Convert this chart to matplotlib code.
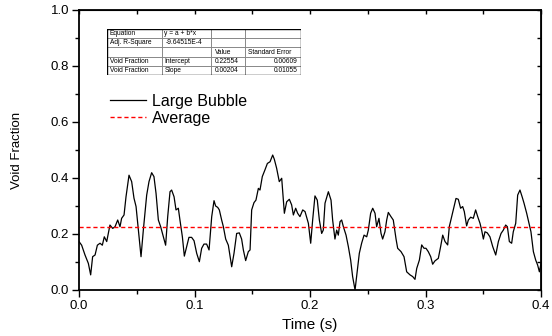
import matplotlib
matplotlib.use("Agg")
import matplotlib.pyplot as plt
from matplotlib.ticker import MultipleLocator

plt.rcParams['font.family'] = ['Liberation Sans', 'DejaVu Sans']

# time (s) and void fraction
time_s = [
    0.0000, 0.0023, 0.0052, 0.0081, 0.0101, 0.0118, 0.0139, 0.0159, 0.0182, 0.0202,
    0.0219, 0.0240, 0.0268, 0.0292, 0.0312, 0.0335, 0.0355, 0.0369, 0.0390, 0.0407,
    0.0433, 0.0456, 0.0476, 0.0494, 0.0514, 0.0537, 0.0557, 0.0586, 0.0606, 0.0629,
    0.0649, 0.0667, 0.0687, 0.0707, 0.0730, 0.0750, 0.0768, 0.0788, 0.0802, 0.0823,
    0.0840, 0.0860, 0.0874, 0.0895, 0.0912, 0.0932, 0.0952, 0.0975, 0.0996, 0.1019,
    0.1042, 0.1062, 0.1082, 0.1105, 0.1126, 0.1149, 0.1169, 0.1183, 0.1201, 0.1215,
    0.1235, 0.1250, 0.1270, 0.1293, 0.1322, 0.1342, 0.1365, 0.1388, 0.1408, 0.1423,
    0.1443, 0.1466, 0.1481, 0.1495, 0.1515, 0.1532, 0.1553, 0.1567, 0.1587, 0.1610,
    0.1631, 0.1654, 0.1677, 0.1691, 0.1711, 0.1734, 0.1755, 0.1778, 0.1798, 0.1821,
    0.1841, 0.1856, 0.1876, 0.1893,
    0.1913, 0.1937, 0.1957, 0.1986, 0.2006, 0.2023, 0.2043, 0.2063, 0.2081, 0.2101,
    0.2115, 0.2130, 0.2159, 0.2182, 0.2196, 0.2216, 0.2231, 0.2245, 0.2260, 0.2274,
    0.2289, 0.2312, 0.2332, 0.2352, 0.2369, 0.2390, 0.2410, 0.2427, 0.2447, 0.2468,
    0.2491, 0.2505, 0.2525, 0.2543, 0.2563, 0.2577, 0.2597, 0.2615, 0.2629, 0.2649,
    0.2664, 0.2678, 0.2701, 0.2721, 0.2745, 0.2759, 0.2788, 0.2814, 0.2837, 0.2866,
    0.2889, 0.2909, 0.2924, 0.2947, 0.2967, 0.2987, 0.3004, 0.3024, 0.3045, 0.3062,
    0.3082, 0.3111, 0.3131, 0.3149, 0.3169, 0.3192, 0.3206, 0.3227, 0.3241, 0.3264,
    0.3284, 0.3304, 0.3322, 0.3336, 0.3356, 0.3371, 0.3391, 0.3414, 0.3434, 0.3452,
    0.3472, 0.3486, 0.3501, 0.3515, 0.3535, 0.3558, 0.3582, 0.3608, 0.3631, 0.3654,
    0.3674, 0.3694, 0.3709, 0.3726, 0.3746, 0.3760, 0.3781, 0.3798, 0.3818, 0.3838,
    0.3853, 0.3876, 0.3896, 0.3913, 0.3934, 0.3954, 0.3971, 0.3986, 0.4000,
]
void_frac = [
    0.173, 0.160, 0.125, 0.095, 0.054, 0.119, 0.125, 0.160, 0.167, 0.160,
    0.190, 0.173, 0.232, 0.220, 0.226, 0.250, 0.226, 0.256, 0.268, 0.333,
    0.410, 0.387, 0.328, 0.298, 0.214, 0.119, 0.214, 0.339, 0.387, 0.419,
    0.405, 0.345, 0.250, 0.226, 0.190, 0.160, 0.262, 0.351, 0.357, 0.333,
    0.286, 0.292, 0.250, 0.190, 0.121, 0.155, 0.188, 0.188, 0.176, 0.131,
    0.101, 0.149, 0.164, 0.164, 0.143, 0.262, 0.319, 0.300, 0.295, 0.286,
    0.250, 0.226, 0.182, 0.160, 0.083, 0.131, 0.202, 0.204, 0.182, 0.143,
    0.105, 0.137, 0.143, 0.286, 0.312, 0.321, 0.363, 0.357, 0.405, 0.429,
    0.452, 0.458, 0.482, 0.467, 0.435, 0.387, 0.399, 0.274, 0.315, 0.324,
    0.304, 0.268, 0.292, 0.274,
    0.262, 0.286, 0.280, 0.238, 0.167, 0.250, 0.336, 0.321, 0.250, 0.202,
    0.214, 0.310, 0.351, 0.321, 0.250, 0.182, 0.214, 0.196, 0.244, 0.250,
    0.226, 0.196, 0.155, 0.107, 0.048, 0.000, 0.071, 0.131, 0.167, 0.196,
    0.190, 0.214, 0.274, 0.292, 0.274, 0.226, 0.256, 0.202, 0.182, 0.208,
    0.250, 0.277, 0.262, 0.250, 0.182, 0.149, 0.137, 0.119, 0.065, 0.054,
    0.048, 0.038, 0.077, 0.107, 0.161, 0.149, 0.149, 0.137, 0.119, 0.092,
    0.104, 0.113, 0.155, 0.196, 0.173, 0.161, 0.226, 0.262, 0.286, 0.327,
    0.324, 0.292, 0.298, 0.280, 0.229, 0.250, 0.260, 0.256, 0.286, 0.262,
    0.238, 0.214, 0.182, 0.208, 0.204, 0.190, 0.155, 0.125, 0.173, 0.202,
    0.214, 0.232, 0.226, 0.173, 0.167, 0.208, 0.238, 0.339, 0.357, 0.331,
    0.310, 0.274, 0.238, 0.208, 0.137, 0.107, 0.089, 0.065, 0.095,
]

average = 0.22554

# linear fit table (Origin style)
table_rows = [
    ["Equation", "y = a + b*x", "", ""],
    ["Adj. R-Square", "-9.64515E-4", "", ""],
    ["", "", "Value", "Standard Error"],
    ["Void Fraction", "Intercept", "0.22554", "0.00609"],
    ["Void Fraction", "Slope", "0.00204", "0.01055"],
]

W, H = 552, 336
fig = plt.figure(figsize=(W / 100, H / 100), dpi=100)
ax = fig.add_axes([79 / W, 1 - 290 / H, 462 / W, 280 / H])

ax.plot(time_s, void_frac, color='black', lw=0.9, label='Large Bubble')
ax.axhline(average, color='red', lw=1.0, dashes=(3, 2), label='Average')

ax.set_xlim(0, 0.4)
ax.set_ylim(0, 1.0)
ax.xaxis.set_major_locator(MultipleLocator(0.1))
ax.xaxis.set_minor_locator(MultipleLocator(0.05))
ax.yaxis.set_major_locator(MultipleLocator(0.2))
ax.yaxis.set_minor_locator(MultipleLocator(0.1))
ax.xaxis.set_major_formatter(lambda v, p: "%.1f" % v)
ax.yaxis.set_major_formatter(lambda v, p: "%.1f" % v)
ax.tick_params(which='major', direction='out', length=5, width=1.0, labelsize=9.5, pad=2)
ax.tick_params(which='minor', direction='out', length=3, width=1.0)
for s in ax.spines.values():
    s.set_linewidth(1.3)

top = ax.secondary_xaxis('top')
top.xaxis.set_major_locator(MultipleLocator(0.1))
top.xaxis.set_minor_locator(MultipleLocator(0.05))
top.tick_params(which='both', direction='in', length=3, width=1.0, labeltop=False)
right = ax.secondary_yaxis('right')
right.yaxis.set_major_locator(MultipleLocator(0.2))
right.yaxis.set_minor_locator(MultipleLocator(0.1))
right.tick_params(which='both', direction='in', length=3, width=1.0, labelright=False)

ax.set_xlabel("Time (s)", fontsize=11)
ax.set_ylabel("Void Fraction", fontsize=9.5)
ax.xaxis.set_label_coords(0.5, -0.1)
ax.yaxis.set_label_coords(-0.121, 0.5)

ax.legend(loc='upper left', bbox_to_anchor=(110 / W, 1 - 94 / H),
          bbox_transform=fig.transFigure, frameon=False, fontsize=11.5,
          handlelength=2.25, handletextpad=0.35, labelspacing=0.1,
          borderpad=0, borderaxespad=0)

# inset table
tx0, ty0, tw, th = 107, 29.3, 194, 45.4
col_edges = [0, 54.5, 104, 138, 194]
row_h = th / len(table_rows)
tab = fig.add_axes([tx0 / W, 1 - (ty0 + th) / H, tw / W, th / H])
tab.set_xlim(0, tw)
tab.set_ylim(th, 0)
tab.axis('off')
for c in col_edges[1:-1]:
    tab.plot([c, c], [0, th], color='#888888', lw=0.7)
for r in range(1, len(table_rows)):
    tab.plot([0, tw], [r * row_h, r * row_h], color='#888888', lw=0.7)
tab.plot([0, tw, tw, 0, 0], [0, 0, th, th, 0], color='black', lw=1.0)
for r, row in enumerate(table_rows):
    yc = (r + 0.5) * row_h
    for c, txt in enumerate(row):
        if not txt:
            continue
        if c == 3 and r >= 3:
            tab.text(col_edges[4] - 3, yc, txt, ha='right', va='center', fontsize=4.8)
        else:
            pad = 4 if c in (1, 2) and txt[0] in "-0V" else 3
            tab.text(col_edges[c] + pad, yc, txt, ha='left', va='center', fontsize=4.8)

fig.savefig("out.png", dpi=100)
